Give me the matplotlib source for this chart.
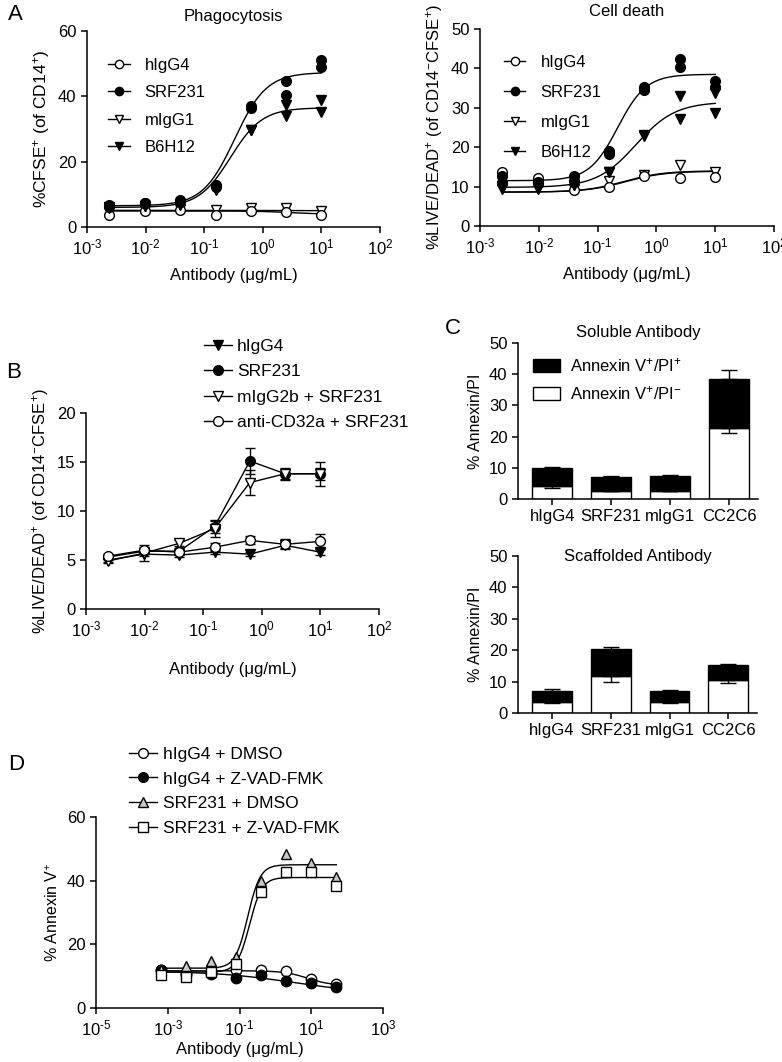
import numpy as np
import matplotlib
matplotlib.use('Agg')
import matplotlib.pyplot as plt
from matplotlib.patches import Patch
from matplotlib.lines import Line2D

plt.rcParams['font.family'] = ['Liberation Sans', 'DejaVu Sans']
plt.rcParams['mathtext.fontset'] = 'custom'
plt.rcParams['mathtext.rm'] = 'Liberation Sans'
plt.rcParams['mathtext.it'] = 'Liberation Sans:italic'
plt.rcParams['mathtext.bf'] = 'Liberation Sans:bold'
plt.rcParams['font.size'] = 12
plt.rcParams['axes.linewidth'] = 1.1
plt.rcParams['xtick.major.width'] = 1.1
plt.rcParams['ytick.major.width'] = 1.1
plt.rcParams['xtick.major.size'] = 4
plt.rcParams['ytick.major.size'] = 4

# ---- Panel A: phagocytosis / cell death (two replicates per dose) ----
dose_a = [0.0024, 0.0098, 0.039, 0.156, 0.625, 2.5, 10]

phago_hIgG4 = [3.8, 4.9, 5.3, 3.8, 4.9, 4.5, 3.8]
phago_mIgG1 = [5.3, 5.3, 5.4, 5.3, 5.9, 5.7, 4.9]
phago_SRF231_r1 = [6.6, 7.4, 8.4, 12.8, 36.9, 44.6, 51.2]
phago_SRF231_r2 = [6.2, 7.2, 7.6, 12.2, 36.4, 40.3, 48.9]
phago_B6H12_r1 = [6.0, 6.5, 7.0, 11.7, 29.8, 37.5, 39.0]
phago_B6H12_r2 = [5.8, 6.3, 6.8, 11.2, 29.6, 34.0, 35.1]

death_hIgG4 = [13.7, 12.3, 9.1, 9.8, 12.6, 12.1, 12.5]
death_mIgG1 = [9.3, 9.3, 9.3, 11.5, 13.0, 15.4, 13.6]
death_SRF231_r1 = [12.7, 11.2, 12.7, 19.1, 35.2, 42.4, 36.7]
death_SRF231_r2 = [11.0, 11.0, 11.5, 18.3, 34.6, 40.4, 35.2]
death_B6H12_r1 = [10.2, 10.2, 10.5, 13.8, 23.1, 32.9, 33.7]
death_B6H12_r2 = [10.0, 10.0, 10.3, 13.6, 22.9, 27.1, 28.7]

# fitted curve parameters: bottom, top, EC50, hill
fit_phago = {'hIgG4': (4.9, 3.9, 3.0, 1.5), 'SRF231': (6.5, 47.3, 0.33, 1.6),
             'mIgG1': (5.1, 5.0, 1.0, 1.0), 'B6H12': (6.0, 36.5, 0.28, 1.6)}
fit_death = {'hIgG4': (8.6, 13.9, 0.3, 1.3), 'SRF231': (11.5, 38.5, 0.22, 1.8),
             'mIgG1': (8.6, 14.0, 0.28, 1.3), 'B6H12': (9.8, 31.5, 0.45, 1.3)}

# ---- Panel B: mean +/- error ----
b_labels = ['hIgG4', 'SRF231', 'mIgG2b + SRF231', 'anti-CD32a + SRF231']
b_hIgG4 = [5.0, 5.6, 5.5, 5.8, 5.6, 6.5, 5.8]
b_hIgG4_err = [0.2, 0.2, 0.2, 0.2, 0.2, 0.3, 0.3]
b_SRF231 = [5.3, 5.9, 5.9, 8.4, 15.1, 13.8, 13.8]
b_SRF231_err = [0.2, 0.3, 0.3, 0.6, 1.3, 0.5, 0.6]
b_mIgG2b = [4.9, 5.7, 6.7, 8.2, 12.9, 13.8, 13.8]
b_mIgG2b_err = [0.2, 0.8, 0.3, 0.9, 1.3, 0.6, 1.2]
b_CD32a = [5.4, 6.0, 5.8, 6.3, 7.0, 6.6, 6.9]
b_CD32a_err = [0.2, 0.3, 0.3, 0.4, 0.4, 0.5, 0.8]

# ---- Panel C: stacked bars ----
c_groups = ['hIgG4', 'SRF231', 'mIgG1', 'CC2C6']
sol_pi_neg = [4.3, 2.6, 2.6, 22.9]
sol_total = [10.0, 7.2, 7.5, 38.4]
sol_neg_err = [0.7, 0.1, 0.1, 1.6]
sol_tot_err = [0.3, 0.1, 0.1, 2.8]
scf_pi_neg = [3.6, 11.8, 3.5, 10.5]
scf_total = [7.1, 20.5, 7.0, 15.2]
scf_neg_err = [0.3, 2.0, 0.2, 0.9]
scf_tot_err = [0.4, 0.6, 0.4, 0.3]

# ---- Panel D ----
dose_d = [0.00064, 0.0032, 0.016, 0.08, 0.4, 2, 10, 50]
d_hIgG4_dmso = [12.0, 11.0, 11.2, 12.0, 11.8, 11.5, 9.1, 7.6]
d_hIgG4_zvad = [12.0, 10.5, 10.8, 9.4, 10.5, 8.4, 7.7, 6.6]
d_SRF_dmso = [11.8, 13.1, 14.7, 16.0, 39.8, 48.4, 45.5, 41.0]
d_SRF_zvad = [10.3, 9.7, 11.3, 13.9, 36.3, 42.8, 42.6, 38.2]
fit_d = {'hIgG4_dmso': (11.7, 7.0, 8.0, 1.3), 'hIgG4_zvad': (11.6, 4.5, 3.0, 0.4),
         'SRF_dmso': (12.5, 45.0, 0.17, 2.5), 'SRF_zvad': (11.3, 41.0, 0.19, 2.5)}


def four_pl(x, p):
    bottom, top, ec50, hill = p
    return bottom + (top - bottom) / (1 + (ec50 / x) ** hill)


def style_axes(ax):
    ax.spines['top'].set_visible(False)
    ax.spines['right'].set_visible(False)
    ax.tick_params(direction='out', labelsize=12)


def log_axes(ax, lo, hi, step=1):
    ax.set_xscale('log')
    ax.set_xlim(10.0 ** lo, 10.0 ** hi)
    exps = list(range(lo, hi + 1, step))
    ax.set_xticks([10.0 ** e for e in exps])
    ax.set_xticklabels(['10$^{\\text{%d}}$' % e for e in exps])
    ax.xaxis.set_minor_locator(matplotlib.ticker.NullLocator())


fig = plt.figure(figsize=(7.82, 10.62), dpi=100)
W, H = 782.0, 1062.0


def axes_px(x0, y0, x1, y1):
    return fig.add_axes([x0 / W, 1 - y1 / H, (x1 - x0) / W, (y1 - y0) / H])


ms = 7
open_c = dict(marker='o', mfc='white', mec='black')
fill_c = dict(marker='o', mfc='black', mec='black')
open_t = dict(marker='v', mfc='white', mec='black')
fill_t = dict(marker='v', mfc='black', mec='black')

# ---------------- A left ----------------
ax = axes_px(87, 31, 380, 227)
style_axes(ax)
log_axes(ax, -3, 2)
xs = np.logspace(np.log10(dose_a[0]), np.log10(dose_a[-1]), 200)
series = [('hIgG4', [phago_hIgG4], open_c), ('SRF231', [phago_SRF231_r1, phago_SRF231_r2], fill_c),
          ('mIgG1', [phago_mIgG1], open_t), ('B6H12', [phago_B6H12_r1, phago_B6H12_r2], fill_t)]
for name, reps, mk in series:
    ax.plot(xs, four_pl(xs, fit_phago[name]), color='black', lw=1.0, zorder=2)
for name, reps, mk in [series[2], series[0], series[3], series[1]]:
    for r in reps:
        ax.plot(dose_a, r, ls='none', ms=ms, mew=1.0, zorder=3, **mk)
ax.set_ylim(0, 60)
ax.set_yticks([0, 20, 40, 60])
ax.set_ylabel('%CFSE$^{+}$ (of CD14$^{+}$)', fontsize=12.5)
ax.set_xlabel('Antibody (\u03bcg/mL)', labelpad=8)
ax.set_title('Phagocytosis', fontsize=12, pad=7)
handles = [Line2D([], [], color='black', lw=1.0, ms=6, **mk) for _, _, mk in series]
ax.legend(handles, [s[0] for s in series], loc='upper left', bbox_to_anchor=(0.02, 0.94),
          frameon=False, handlelength=1.3, handletextpad=0.9, labelspacing=0.75, fontsize=12)

# ---------------- A right ----------------
ax = axes_px(480, 29, 774, 226)
style_axes(ax)
log_axes(ax, -3, 2)
series = [('hIgG4', [death_hIgG4], open_c), ('SRF231', [death_SRF231_r1, death_SRF231_r2], fill_c),
          ('mIgG1', [death_mIgG1], open_t), ('B6H12', [death_B6H12_r1, death_B6H12_r2], fill_t)]
for name, reps, mk in series:
    ax.plot(xs, four_pl(xs, fit_death[name]), color='black', lw=1.0, zorder=2)
for name, reps, mk in [series[2], series[0], series[3], series[1]]:
    for r in reps:
        ax.plot(dose_a, r, ls='none', ms=ms, mew=1.0, zorder=3, **mk)
ax.set_ylim(0, 50)
ax.set_yticks([0, 10, 20, 30, 40, 50])
ax.set_ylabel('%LIVE/DEAD$^{+}$ (of CD14$^{-}$CFSE$^{+}$)', fontsize=12)
ax.set_xlabel('Antibody (\u03bcg/mL)', labelpad=8)
ax.set_title('Cell death', fontsize=12, pad=9)
handles = [Line2D([], [], color='black', lw=1.0, ms=6, **mk) for _, _, mk in series]
ax.legend(handles, [s[0] for s in series], loc='upper left', bbox_to_anchor=(0.03, 0.945),
          frameon=False, handlelength=1.3, handletextpad=0.9, labelspacing=0.9, fontsize=12)

# ---------------- B ----------------
ax = axes_px(86, 413, 379, 609)
style_axes(ax)
log_axes(ax, -3, 2)
b_series = [(b_hIgG4, b_hIgG4_err, fill_t), (b_SRF231, b_SRF231_err, fill_c),
            (b_mIgG2b, b_mIgG2b_err, open_t), (b_CD32a, b_CD32a_err, open_c)]
for vals, err, mk in b_series:
    ax.errorbar(dose_a, vals, yerr=err, color='black', lw=1.0, ms=ms, mew=1.0,
                capsize=3.5, elinewidth=1.0, capthick=1.0, **mk)
ax.set_ylim(0, 20)
ax.set_yticks([0, 5, 10, 15, 20])
ax.set_ylabel('%LIVE/DEAD$^{+}$ (of CD14$^{-}$CFSE$^{+}$)', fontsize=12)
ax.set_xlabel('Antibody (\u03bcg/mL)', labelpad=16)
handles = [Line2D([], [], color='black', lw=1.0, ms=ms, **mk) for _, _, mk in b_series]
ax.legend(handles, b_labels, loc='upper left', bbox_to_anchor=(0.35, 1.46),
          frameon=False, handlelength=1.6, handletextpad=0.3, labelspacing=0.6, fontsize=12.5)


# ---------------- C ----------------
def stacked(ax, neg, total, neg_err, tot_err):
    xpos = np.arange(len(c_groups))
    ax.bar(xpos, neg, width=0.68, color='white', edgecolor='black', lw=1.0, zorder=2)
    ax.bar(xpos, np.array(total) - np.array(neg), bottom=neg, width=0.68,
           color='black', edgecolor='black', lw=1.0, zorder=2)
    ax.errorbar(xpos, total, yerr=[np.zeros(4), tot_err], fmt='none', ecolor='black',
                elinewidth=1.0, capsize=6, capthick=1.0, zorder=1)
    ax.errorbar(xpos, neg, yerr=[neg_err, np.zeros(4)], fmt='none', ecolor='black',
                elinewidth=1.0, capsize=6, capthick=1.0, zorder=3)
    ax.set_xticks(xpos)
    ax.set_xticklabels(c_groups, fontsize=12)
    ax.set_xlim(-0.58, 3.49)
    ax.set_ylim(0, 50)
    ax.set_yticks([0, 10, 20, 30, 40, 50])
    ax.set_ylabel('% Annexin/PI', fontsize=11.5)


ax = axes_px(518, 343, 758, 499)
style_axes(ax)
stacked(ax, sol_pi_neg, sol_total, sol_neg_err, sol_tot_err)
ax.set_title('Soluble Antibody', fontsize=12, pad=4)
handles = [Patch(facecolor='black', edgecolor='black'), Patch(facecolor='white', edgecolor='black')]
ax.legend(handles, ['Annexin V$^{+}$/PI$^{+}$', 'Annexin V$^{+}$/PI$^{-}$'], loc='upper left',
          bbox_to_anchor=(0.0, 1.01), frameon=False, handlelength=1.6, handleheight=0.8,
          handletextpad=0.6, labelspacing=0.6, fontsize=12)

ax = axes_px(518, 556, 757, 713)
style_axes(ax)
stacked(ax, scf_pi_neg, scf_total, scf_neg_err, scf_tot_err)
ax.text(0.5, 1.0, 'Scaffolded Antibody', transform=ax.transAxes, ha='center', va='center',
        fontsize=12)

# ---------------- D ----------------
ax = axes_px(96, 817, 383, 1008)
style_axes(ax)
log_axes(ax, -5, 3, step=2)
xs_d = np.logspace(np.log10(dose_d[0]), np.log10(dose_d[-1]), 200)
tri_g = dict(marker='^', mfc='#c8c8c8', mec='black')
sq_o = dict(marker='s', mfc='white', mec='black')
d_series = [('hIgG4 + DMSO', 'hIgG4_dmso', d_hIgG4_dmso, open_c),
            ('hIgG4 + Z-VAD-FMK', 'hIgG4_zvad', d_hIgG4_zvad, fill_c),
            ('SRF231 + DMSO', 'SRF_dmso', d_SRF_dmso, tri_g),
            ('SRF231 + Z-VAD-FMK', 'SRF_zvad', d_SRF_zvad, sq_o)]
for lab, key, vals, mk in d_series:
    ax.plot(xs_d, four_pl(xs_d, fit_d[key]), color='black', lw=1.0, zorder=2)
for lab, key, vals, mk in d_series:
    ax.plot(dose_d, vals, ls='none', ms=7.5, mew=1.0, zorder=3, **mk)
ax.set_ylim(0, 60)
ax.set_yticks([0, 20, 40, 60])
ax.set_ylabel('% Annexin V$^{+}$', fontsize=11.5)
ax.set_xlabel('Antibody (\u03bcg/mL)', labelpad=3)
handles = [Line2D([], [], color='black', lw=1.0, ms=7, **mk) for _, _, _, mk in d_series]
ax.legend(handles, [s[0] for s in d_series], loc='upper left', bbox_to_anchor=(0.06, 1.45),
          frameon=False, handlelength=1.6, handletextpad=0.35, labelspacing=0.55, fontsize=12.5)

# panel letters
for letter, px, py in [('A', 15, 15), ('B', 14, 372), ('C', 453, 329), ('D', 16, 765)]:
    fig.text(px / W, 1 - py / H, letter, fontsize=16, ha='center', va='center')

fig.savefig('out.png', dpi=100)
